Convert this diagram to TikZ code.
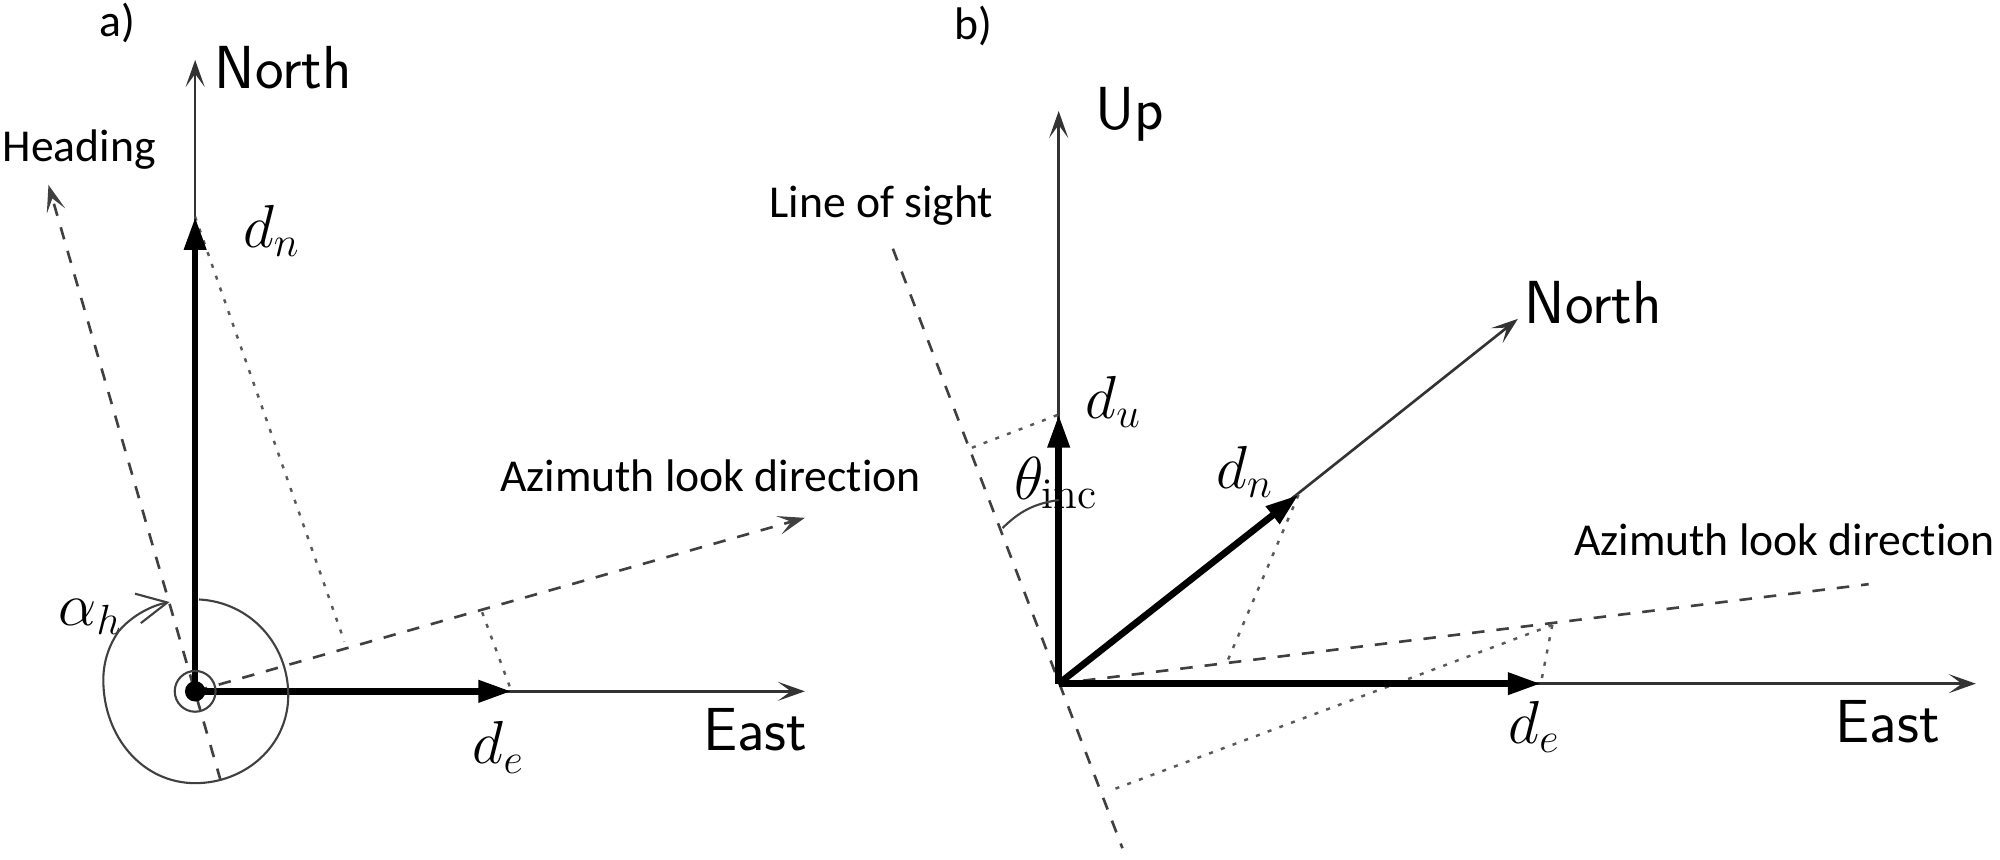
\documentclass[tikz,border=0pt]{standalone}
\usepackage{fontspec}
\usepackage{amsmath}
\usetikzlibrary{arrows.meta,calc}
\newfontfamily\notefont[Ligatures=NoCommon]{Carlito}
\tikzset{
    smalltip/.style={-{Stealth[length=2.7mm,width=1.9mm,inset=1.3mm]}},
    axisline/.style={line width=0.75pt,draw=black!80,smalltip},
    compline/.style={line width=1.9pt,-{Triangle[length=3.3mm,width=2.1mm]}},
    dashline/.style={line width=0.75pt,dash pattern=on 1.25mm off 1.2mm,draw=black!75},
    dotline/.style={line width=0.7pt,dash pattern=on 0.4mm off 0.85mm,draw=black!65},
    handline/.style={line width=0.6pt,draw=black!75},
    axislabel/.style={inner sep=0pt,font=\sffamily\fontsize{17.3}{20}\selectfont},
    notelabel/.style={inner sep=0pt,font=\notefont\fontsize{13}{15}\selectfont},
    complabel/.style={inner sep=0pt,font=\fontsize{17.8}{20}\selectfont},
}
\begin{document}
\begin{tikzpicture}[x=0.012755cm,y=-0.012755cm]
    \useasboundingbox (0,0) rectangle (1568,674.2);

    % Panel a
    \coordinate (OA) at (153,542);
    \coordinate (NorthA) at (153,47);
    \coordinate (EastA) at (631,542);
    \coordinate (DnA) at (153,170);
    \coordinate (DeA) at (401,542);
    \coordinate (HeadEnd) at (38,145);
    \coordinate (HeadTail) at (173,612);
    \coordinate (LookEnd) at (631,406);
    \coordinate (DnFoot) at (270,503);
    \coordinate (DeFoot) at (378,480);
    \coordinate (AlphaEnd) at (133,472);

    \node[notelabel] (labA) at (92,18) {a)};
    \node[axislabel] (northA) at (222,53) {North};
    \node[axislabel] (eastA) at (592,572) {East};
    \node[notelabel] (heading) at (62,117) {Heading};
    \node[notelabel] (lookA) at (557,373) {Azimuth look direction};
    \node[complabel] (dnA) at (213,181) {$d_n$};
    \node[complabel] (deA) at (391,586) {$d_e$};
    \node[complabel] (alpha) at (71,484) {$\alpha_h$};

    % Axes
    \draw[axisline] (OA) -- (NorthA);
    \draw[axisline] (OA) -- (EastA);

    % Heading and look direction
    \draw[dashline,smalltip] (HeadTail) -- (HeadEnd);
    \draw[dashline,smalltip] (OA) -- (LookEnd);

    % Projections
    \draw[dotline] (DnA) -- (DnFoot);
    \draw[dotline] (DeFoot) -- (DeA);

    % Components
    \draw[compline] (OA) -- (DnA);
    \draw[compline] (OA) -- (DeA);
    \fill (OA) circle (8);
    \draw[handline] (OA) circle (16);

    % Angle, drawn by hand
    \draw[handline,-{Straight Barb[length=3mm,width=3mm]}]
        (156,470) .. controls (196,472) and (226,505) .. (226,545)
        .. controls (226,585) and (192,614) .. (153,614)
        .. controls (112,614) and (81,578) .. (81,533)
        .. controls (81,518) and (86,505) .. (93,495)
        .. controls (103,483) and (118,475) .. (AlphaEnd);

    % Panel b
    \coordinate (OB) at (830,536);
    \coordinate (UpB) at (830,87);
    \coordinate (NorthB) at (1190,250);
    \coordinate (EastB) at (1549,536);
    \coordinate (DuB) at (830,325);
    \coordinate (DnB) at (1018,388);
    \coordinate (DeB) at (1208,536);
    \coordinate (SightTop) at (700,195);
    \coordinate (SightEnd) at (880,665);
    \coordinate (LookEndB) at (1465,458);
    \coordinate (DuFoot) at (762,351);
    \coordinate (DnFootB) at (962,519);
    \coordinate (LookFoot) at (1217,490);
    \coordinate (SightFoot) at (870,620);
    \coordinate (ThetaA) at (786,414);
    \coordinate (ThetaB) at (830,392);

    \node[notelabel] (labB) at (763,20) {b)};
    \node[axislabel] (upB) at (886,90) {Up};
    \node[axislabel] (northB) at (1249,237) {North};
    \node[axislabel] (eastB) at (1480,566) {East};
    \node[notelabel] (sight) at (691,161) {Line of sight};
    \node[notelabel] (lookB) at (1399,423) {Azimuth look direction};
    \node[complabel] (duB) at (873,315) {$d_u$};
    \node[complabel] (dnB) at (976,370) {$d_n$};
    \node[complabel] (deB) at (1203,570) {$d_e$};
    \node[complabel] (theta) at (828,379) {$\theta_{\text{inc}}$};

    % Axes
    \draw[axisline] (OB) -- (UpB);
    \draw[axisline] (OB) -- (NorthB);
    \draw[axisline] (OB) -- (EastB);

    % Line of sight and look direction
    \draw[dashline] (SightTop) -- (SightEnd);
    \draw[dashline] (OB) -- (LookEndB);

    % Projections
    \draw[dotline] (DuFoot) -- (DuB);
    \draw[dotline] (DnB) -- (DnFootB);
    \draw[dotline] (LookFoot) -- (DeB);
    \draw[dotline] (LookFoot) -- (SightFoot);

    % Components
    \draw[compline] (OB) -- (DuB);
    \draw[compline] (OB) -- (DnB);
    \draw[compline] (OB) -- (DeB);

    % Angle
    \draw[handline] (ThetaA) to[bend left=18] (ThetaB);
\end{tikzpicture}
\end{document}
